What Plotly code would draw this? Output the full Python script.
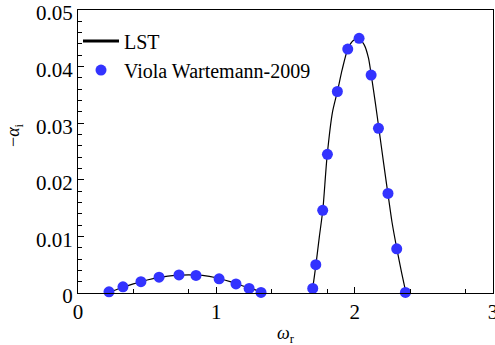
import plotly.graph_objects as go

# ---- data ----
# LST curve (two humps; None marks the gap between them)
lst_omega = [0.22, 0.30, 0.40, 0.50, 0.60, 0.70, 0.80, 0.90, 1.00, 1.10, 1.20, 1.30, 1.325,
             None,
             1.685, 1.70, 1.72, 1.745, 1.77, 1.80, 1.84, 1.875, 1.91, 1.95, 1.99, 2.03, 2.07,
             2.10, 2.12, 2.15, 2.175, 2.21, 2.24, 2.27, 2.305, 2.34, 2.37]
lst_alpha = [0.0001, 0.0008, 0.0016, 0.0023, 0.0028, 0.0031, 0.0032, 0.0031, 0.0027, 0.0020, 0.0012, 0.0004, 0.0001,
             None,
             0.0000, 0.0015, 0.0050, 0.0100, 0.0147, 0.0240, 0.0320, 0.0356, 0.0395, 0.0431, 0.0446, 0.0450, 0.0438,
             0.0415, 0.0385, 0.0335, 0.0291, 0.0228, 0.0176, 0.0125, 0.0078, 0.0035, 0.0001]

# Viola & Wartemann (2009) data points
viola_omega = [0.224, 0.325, 0.455, 0.586, 0.730, 0.853, 1.020, 1.142, 1.237, 1.323,
               1.697, 1.719, 1.769, 1.803, 1.875, 1.950, 2.032, 2.119, 2.172, 2.241, 2.304, 2.367]
viola_alpha = [0.0002, 0.0011, 0.0020, 0.0028, 0.0032, 0.0031, 0.0025, 0.0016, 0.0008, 0.0001,
               0.0008, 0.0050, 0.0146, 0.0245, 0.0356, 0.0431, 0.0450, 0.0385, 0.0291, 0.0176, 0.0078, 0.0001]

x_major = [0, 1, 2, 3]
x_major_text = ["0", "1", "2", "3"]
x_minor = [0.4, 0.8, 1.4, 1.8, 2.4, 2.8]
y_major = [0, 0.01, 0.02, 0.03, 0.04, 0.05]
y_major_text = ["0", "0.01", "0.02", "0.03", "0.04", "0.05"]

FONT = "Liberation Serif"
BLUE = "#3333ff"

fig = go.Figure()
# curve in plot (thin)
fig.add_trace(go.Scatter(x=lst_omega, y=lst_alpha, mode="lines",
                         line=dict(color="black", width=1.2, shape="spline", smoothing=0.6),
                         connectgaps=False, showlegend=False, hoverinfo="skip"))
# legend entry for curve (thick sample)
fig.add_trace(go.Scatter(x=[None], y=[None], mode="lines", line=dict(color="black", width=3), name="LST"))
fig.add_trace(go.Scatter(x=viola_omega, y=viola_alpha, mode="markers", marker=dict(color=BLUE, size=11),
                         name="Viola Wartemann-2009", cliponaxis=False))

pw, ph = 495 - 78 - 2, 345 - 10 - 52

fig.update_layout(
    width=495, height=345,
    margin=dict(l=78, r=2, t=10, b=52, autoexpand=False),
    plot_bgcolor="white", paper_bgcolor="white",
    font=dict(family=FONT, size=21, color="black"),
    showlegend=True,
    legend=dict(x=0.0, y=0.959, xanchor="left", yanchor="top", bgcolor="rgba(0,0,0,0)",
                font=dict(family=FONT, size=20), itemwidth=36, tracegroupgap=0),
    xaxis=dict(range=[0, 3.00001], tickmode="array", tickvals=x_major, ticktext=x_major_text,
               ticks="inside", ticklen=6, tickwidth=1, tickcolor="black", ticklabeloverflow="allow",
               automargin=False,
               minor=dict(tickmode="array", tickvals=x_minor, ticks="inside", ticklen=4,
                          tickcolor="black", showgrid=False),
               showline=True, linecolor="black", linewidth=1.2, mirror=True,
               showgrid=False, zeroline=False, tickfont=dict(family=FONT, size=21)),
    yaxis=dict(range=[0, 0.0500001], tickmode="array", tickvals=y_major, ticktext=y_major_text,
               ticks="inside", ticklen=6, tickwidth=1, tickcolor="black", ticklabeloverflow="allow",
               automargin=False, ticklabelshift=3,
               minor=dict(dtick=0.002, tick0=0, ticks="inside", ticklen=4, tickcolor="black", showgrid=False),
               showline=True, linecolor="black", linewidth=1.2, mirror=True,
               showgrid=False, zeroline=False, tickfont=dict(family=FONT, size=21)),
    annotations=[
        dict(text="<i>ω</i><sub>r</sub>", x=0.5, y=(345 - 52 - 334) / ph, xref="paper", yref="paper",
             xanchor="center", yanchor="middle", showarrow=False, font=dict(family=FONT, size=18)),
        dict(text="−<i>α</i><sub>i</sub>", x=(14 - 78) / pw, y=(345 - 52 - 135) / ph, xref="paper", yref="paper",
             xanchor="center", yanchor="middle", showarrow=False, textangle=-90,
             font=dict(family=FONT, size=18)),
    ],
)

fig.write_html("out.html")
